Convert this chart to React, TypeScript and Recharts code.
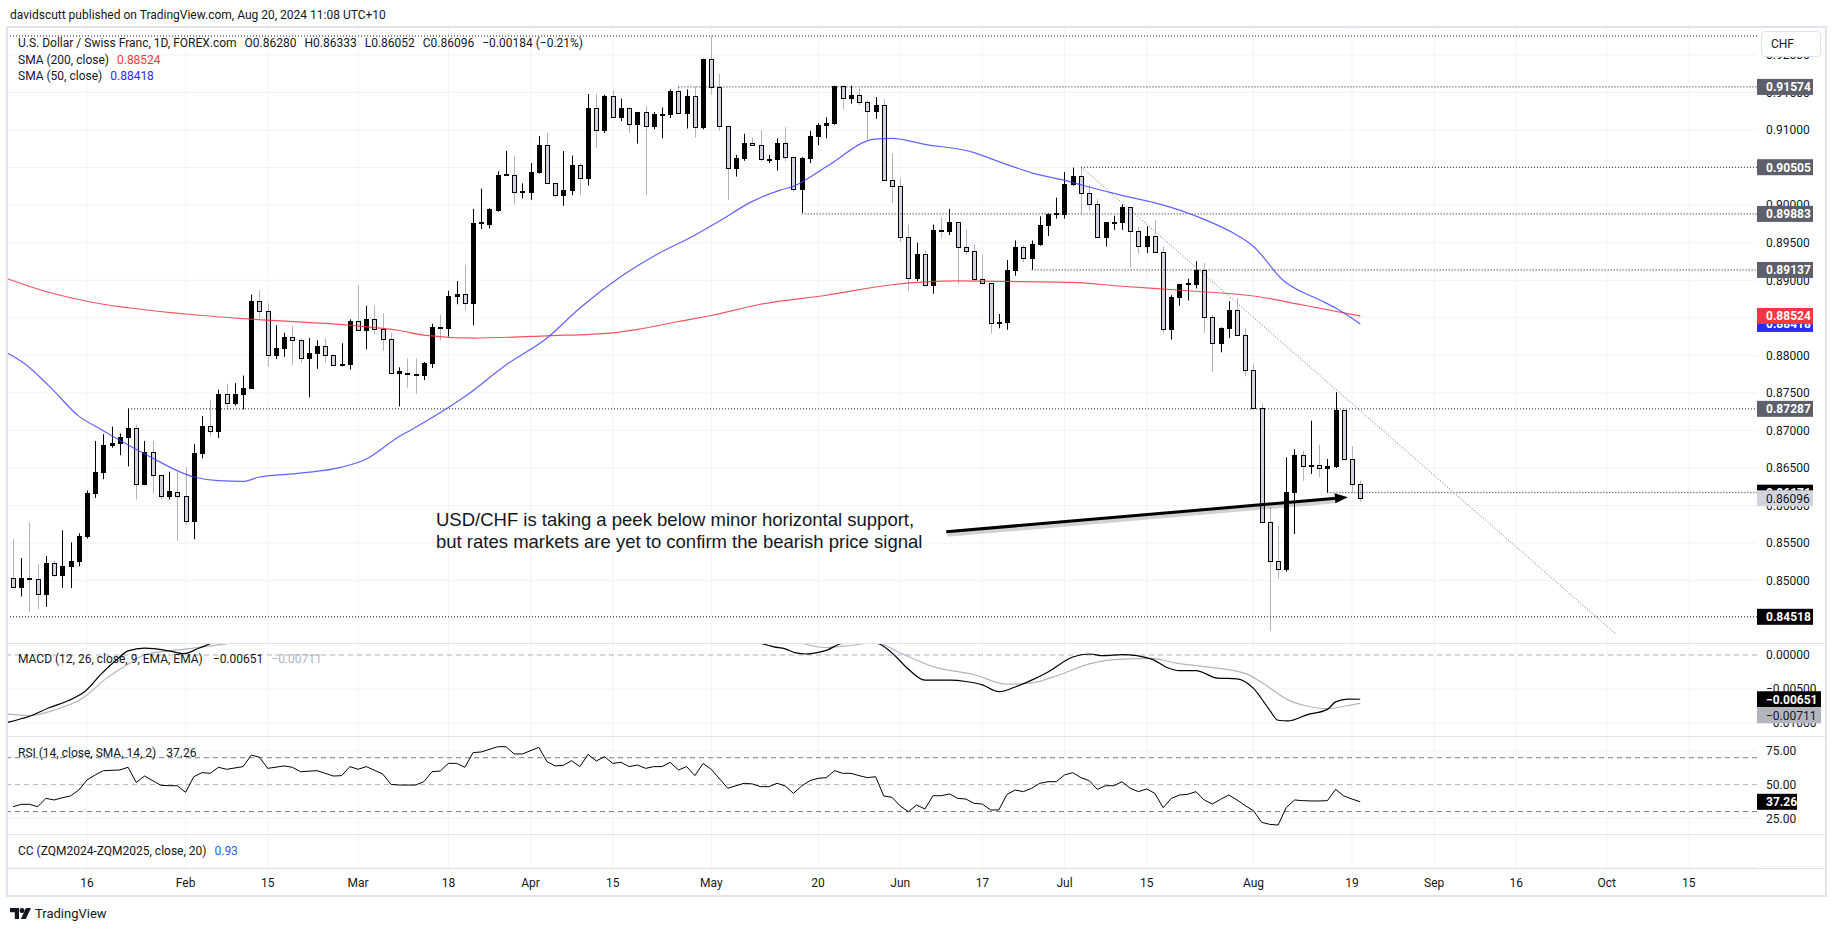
import {
  ComposedChart,
  Bar,
  Line,
  XAxis,
  YAxis,
  CartesianGrid,
  ReferenceLine,
} from 'recharts';

const FONT = 'Roboto, "Open Sans", Arial, sans-serif';
const INK = '#131722';
const GRID = '#f0f3fa';
const BORDER = '#e0e3eb';

// daily bars, index 0 = Mon 1 Jan 2024 (weekdays only); first bar drawn is index 2
const FIRST_BAR = 2;
const X_MIN = 1.26;
const X_MAX = 214.3;

const opens = [
  0.8504, 0.8492, 0.8503, 0.8502, 0.8482, 0.8524, 0.8508, 0.852, 0.8526, 0.8559,
  0.8616, 0.8645, 0.8681, 0.8683, 0.8691, 0.8703, 0.8628, 0.8671, 0.864, 0.8613,
  0.8618, 0.8613, 0.8579, 0.867, 0.8706, 0.8699, 0.8748, 0.8737, 0.8748, 0.8757,
  0.8872, 0.8859, 0.88, 0.881, 0.8824, 0.882, 0.8797, 0.8803, 0.8812, 0.8801,
  0.8787, 0.8788, 0.8846, 0.8834, 0.8849, 0.8835, 0.8822, 0.8777, 0.8777, 0.8775,
  0.8774, 0.879, 0.8838, 0.8837, 0.8879, 0.8882, 0.8869, 0.8976, 0.8975, 0.8994,
  0.904, 0.904, 0.9017, 0.9018, 0.9044, 0.908, 0.9029, 0.9014, 0.902, 0.9054,
  0.9036, 0.9129, 0.91, 0.9145, 0.9117, 0.913, 0.9108, 0.9124, 0.9106, 0.9121,
  0.9121, 0.9152, 0.9123, 0.9145, 0.9104, 0.9194, 0.9157, 0.9106, 0.905, 0.9063,
  0.9083, 0.908, 0.9061, 0.9062, 0.9083, 0.9064, 0.9022, 0.9063, 0.9092, 0.9107,
  0.911, 0.9159, 0.9143, 0.9147, 0.9137, 0.9125, 0.9133, 0.9034, 0.9025, 0.8957,
  0.8903, 0.8935, 0.8893, 0.8967, 0.8966, 0.8977, 0.8944, 0.8939, 0.8901, 0.8896,
  0.8843, 0.8844, 0.8914, 0.8944, 0.893, 0.8948, 0.8974, 0.8988, 0.8988, 0.9028,
  0.9039, 0.9016, 0.9001, 0.8957, 0.8977, 0.8978, 0.8997, 0.8966, 0.8946, 0.8959,
  0.8937, 0.8835, 0.8878, 0.8895, 0.8895, 0.8914, 0.8851, 0.8817, 0.8837, 0.8861,
  0.8827, 0.8781, 0.873, 0.8578, 0.8526, 0.8516, 0.8618, 0.8667, 0.8653, 0.8654,
  0.865, 0.8653, 0.8727, 0.8662, 0.8628,
];
const highs = [
  0.8555, 0.853, 0.8578, 0.8522, 0.8533, 0.8527, 0.8567, 0.8551, 0.8563, 0.862,
  0.8686, 0.8695, 0.8705, 0.8696, 0.8729, 0.8708, 0.8686, 0.8686, 0.8641, 0.8645,
  0.8645, 0.8651, 0.8682, 0.8719, 0.8741, 0.8754, 0.8762, 0.8763, 0.8773, 0.8881,
  0.8887, 0.8869, 0.884, 0.883, 0.8839, 0.8823, 0.8823, 0.882, 0.8823, 0.8801,
  0.8816, 0.8848, 0.8893, 0.8866, 0.8866, 0.8856, 0.883, 0.8784, 0.8796, 0.8796,
  0.8791, 0.8842, 0.8854, 0.8886, 0.8899, 0.892, 0.8995, 0.9022, 0.8996, 0.9045,
  0.9072, 0.9065, 0.9029, 0.9056, 0.9092, 0.9096, 0.9029, 0.9072, 0.9066, 0.9056,
  0.9148, 0.9148, 0.9147, 0.9153, 0.9142, 0.913, 0.9124, 0.9132, 0.9124, 0.913,
  0.9154, 0.9158, 0.9154, 0.9158, 0.9195, 0.9225, 0.9175, 0.9106, 0.9067, 0.9095,
  0.909, 0.91, 0.9067, 0.9089, 0.9104, 0.9064, 0.9064, 0.9099, 0.9109, 0.9117,
  0.9159, 0.9159, 0.9159, 0.9155, 0.914, 0.9144, 0.9141, 0.9069, 0.9036, 0.8974,
  0.895, 0.894, 0.8974, 0.8984, 0.8995, 0.8977, 0.8968, 0.8948, 0.8934, 0.8896,
  0.8855, 0.8927, 0.8953, 0.8947, 0.8953, 0.8985, 0.8989, 0.901, 0.9044, 0.905,
  0.9051, 0.9027, 0.9008, 0.8977, 0.8986, 0.9001, 0.8997, 0.8971, 0.8972, 0.898,
  0.8945, 0.888, 0.8895, 0.8902, 0.8925, 0.8923, 0.8854, 0.8837, 0.8872, 0.8876,
  0.8836, 0.8789, 0.8736, 0.8598, 0.8573, 0.8664, 0.8675, 0.8673, 0.8713, 0.8681,
  0.8662, 0.8751, 0.8727, 0.8679, 0.86333,
];
const lows = [
  0.8492, 0.8479, 0.8458, 0.8462, 0.8465, 0.8505, 0.849, 0.849, 0.8519, 0.8556,
  0.861, 0.8635, 0.8677, 0.8667, 0.8652, 0.8608, 0.8627, 0.8616, 0.8608, 0.8608,
  0.8553, 0.8574, 0.8555, 0.8663, 0.8692, 0.869, 0.8727, 0.8733, 0.8728, 0.8756,
  0.8849, 0.8785, 0.8795, 0.8798, 0.8787, 0.879, 0.8744, 0.8782, 0.879, 0.8786,
  0.8785, 0.8781, 0.8834, 0.8808, 0.8828, 0.8806, 0.8774, 0.8732, 0.8757, 0.8749,
  0.8767, 0.8783, 0.882, 0.8825, 0.8868, 0.886, 0.884, 0.8968, 0.8969, 0.8991,
  0.9039, 0.9001, 0.9009, 0.9007, 0.9042, 0.9029, 0.901, 0.8999, 0.9013, 0.9014,
  0.9026, 0.9076, 0.9096, 0.9116, 0.9112, 0.9096, 0.9082, 0.9013, 0.9101, 0.9089,
  0.9116, 0.9121, 0.9102, 0.909, 0.9101, 0.9147, 0.9099, 0.9007, 0.9038, 0.9059,
  0.9081, 0.9058, 0.9056, 0.9046, 0.9058, 0.9017, 0.899, 0.9056, 0.908, 0.9089,
  0.9107, 0.9127, 0.9135, 0.9133, 0.9087, 0.9115, 0.9033, 0.9003, 0.8951, 0.8886,
  0.8899, 0.8893, 0.8882, 0.8956, 0.896, 0.8895, 0.8934, 0.8899, 0.8895, 0.8829,
  0.8836, 0.8834, 0.8906, 0.8924, 0.8914, 0.8946, 0.8959, 0.8982, 0.8982, 0.9026,
  0.8988, 0.8992, 0.8957, 0.8945, 0.8967, 0.8967, 0.8917, 0.8935, 0.8936, 0.8937,
  0.8829, 0.8821, 0.8866, 0.8873, 0.8889, 0.883, 0.8778, 0.8804, 0.8823, 0.8827,
  0.8772, 0.8729, 0.8578, 0.8433, 0.8503, 0.8512, 0.8562, 0.8633, 0.8642, 0.8638,
  0.8617, 0.865, 0.8662, 0.8617, 0.86052,
];
const closes = [
  0.8492, 0.8503, 0.8502, 0.8482, 0.8524, 0.8508, 0.852, 0.8526, 0.8559, 0.8616,
  0.8645, 0.8681, 0.8683, 0.8691, 0.8703, 0.8628, 0.8671, 0.864, 0.8613, 0.8619,
  0.8613, 0.8579, 0.867, 0.8706, 0.8699, 0.8748, 0.8737, 0.8748, 0.8757, 0.8872,
  0.8859, 0.88, 0.881, 0.8824, 0.882, 0.8797, 0.8803, 0.8812, 0.8801, 0.8787,
  0.8788, 0.8846, 0.8834, 0.8849, 0.8835, 0.8822, 0.8777, 0.8779, 0.8775, 0.8774,
  0.879, 0.8838, 0.8837, 0.8879, 0.8882, 0.8869, 0.8976, 0.8977, 0.8995, 0.904,
  0.9041, 0.9017, 0.9019, 0.9044, 0.908, 0.9029, 0.9014, 0.902, 0.9054, 0.9036,
  0.9129, 0.91, 0.9145, 0.9117, 0.913, 0.9108, 0.9124, 0.9106, 0.9121, 0.9122,
  0.9152, 0.9123, 0.9145, 0.9104, 0.9194, 0.9157, 0.9106, 0.905, 0.9063, 0.9083,
  0.908, 0.9061, 0.9062, 0.9083, 0.9064, 0.9022, 0.9063, 0.9092, 0.9107, 0.911,
  0.9159, 0.9143, 0.9147, 0.9137, 0.9125, 0.9133, 0.9034, 0.9025, 0.8957, 0.8903,
  0.8935, 0.8893, 0.8967, 0.8966, 0.8977, 0.8944, 0.8939, 0.8901, 0.8896, 0.8843,
  0.8844, 0.8914, 0.8944, 0.893, 0.8948, 0.8974, 0.8988, 0.8989, 0.9028, 0.9039,
  0.9016, 0.9001, 0.8957, 0.8977, 0.8978, 0.8997, 0.8966, 0.8946, 0.8959, 0.8937,
  0.8835, 0.8878, 0.8895, 0.8896, 0.8914, 0.8851, 0.8817, 0.8837, 0.8861, 0.8827,
  0.8781, 0.873, 0.8578, 0.8526, 0.8516, 0.8618, 0.8667, 0.8653, 0.8654, 0.865,
  0.8653, 0.8727, 0.8662, 0.8628, 0.86096,
];

// time axis
const tickIdx = [11, 23, 33, 44, 55, 65, 75, 87, 100, 110, 120, 130, 140, 153, 165, 175, 185, 196, 206];
const tickLabels = ['16', 'Feb', '15', 'Mar', '18', 'Apr', '15', 'May', '20', 'Jun', '17', 'Jul', '15', 'Aug', '19', 'Sep', '16', 'Oct', '15'];

// moving averages: [bar index, value]
const sma200Points: [number, number][] = [
  [1.3, 0.8902], [6, 0.8885], [11, 0.8872], [23, 0.8855], [31, 0.8848], [43, 0.884],
  [49, 0.8833], [52, 0.8827], [58, 0.8823], [67, 0.8826], [75, 0.883], [78.3, 0.8835],
  [83, 0.8845], [87, 0.8853], [93, 0.8868], [101, 0.888], [109, 0.8894], [117, 0.8899],
  [125, 0.8898], [131, 0.8897], [137, 0.8892], [145, 0.8886], [153, 0.8879], [159, 0.8867],
  [166, 0.88524],
];
const sma50Points: [number, number][] = [
  [1.3, 0.8803], [3.25, 0.879], [6.5, 0.8758], [10, 0.8719], [12.6, 0.8702], [18, 0.8669],
  [24, 0.8638], [27, 0.8633], [30, 0.8632], [32, 0.8638], [37, 0.8643], [42, 0.8651],
  [45, 0.8662], [49, 0.8692], [50.5, 0.8701], [57, 0.8745], [62, 0.8787], [67, 0.8823],
  [71, 0.8863], [76, 0.8905], [80.3, 0.8934], [85, 0.896], [88, 0.8979], [92, 0.9005],
  [95.4, 0.902], [97, 0.9025], [101, 0.9051], [106.9, 0.9088], [109, 0.9089], [113, 0.9081],
  [119, 0.907], [122, 0.9058], [126, 0.9043], [130, 0.9033], [135.5, 0.9017], [139, 0.9008],
  [141, 0.9003], [147, 0.8981], [151, 0.896], [153, 0.8945], [156.6, 0.89], [161, 0.8874],
  [163, 0.8863], [166, 0.88418],
];

// price axis
const priceGrid = [
  0.845, 0.85, 0.855, 0.86, 0.865, 0.87, 0.875, 0.88, 0.885, 0.89, 0.895, 0.9, 0.905,
  0.91, 0.915, 0.92,
];
const priceTagValues = [0.91574, 0.90505, 0.89883, 0.89137, 0.87287, 0.88418, 0.88524, 0.86171, 0.86096, 0.84518];
const priceTagKinds = ['level', 'level', 'level', 'level', 'level', 'sma50', 'sma200', 'support', 'last', 'support'];

// drawn levels: price and the bar where each begins
const levelPrices = [0.92252, 0.91574, 0.90505, 0.89883, 0.89137, 0.87287, 0.86171, 0.84518];
const levelStarts = [X_MIN, 83, 132, 98, 126, 16, 162, X_MIN];
const trendFrom = { i: 132, p: 0.9051 };
const trendTo = { i: 197, p: 0.843 };
const arrowFrom = { i: 115.6, p: 0.8565 };
const arrowTo = { i: 164.5, p: 0.8611 };

// MACD (12, 26, 9): null marks where the lines leave the pane
const macdPoints: [number, number | null][] = [
  [1.3, -0.0099], [4, -0.009], [6.3, -0.0078], [9.3, -0.0064], [10.7, -0.0054], [12.8, -0.0027],
  [14.6, -0.0007], [16, 0.0006], [18, 0.001], [21, 0.0006], [22.8, 0.0002], [24.6, 0.001],
  [26.5, 0.0019], [60, null], [92.5, 0.0019], [94.6, 0.0012], [96, 0.0009], [97.3, 0.0003],
  [98.5, 0.00015], [100.8, 0.0006], [103.2, 0.0018], [105, 0.0019], [107, 0.0018], [109, 0.0003],
  [111, -0.0021], [113, -0.0037], [116, -0.0037], [118, -0.0039], [120, -0.0044], [122, -0.0054],
  [124, -0.0047], [126, -0.0037], [128, -0.0025], [131, -0.0003], [133, 0.00015], [134.7, -0.0001],
  [137, 0.00005], [140.6, -0.0006], [142.4, -0.0018], [144, -0.0023], [146, -0.0023], [148.6, -0.0034],
  [151, -0.0035], [153, -0.0049], [154.8, -0.0078], [156, -0.0096], [157.2, -0.0097], [159.5, -0.0088],
  [162, -0.008], [163, -0.0069], [164.5, -0.0065], [166, -0.00651],
];
const signalPoints: [number, number | null][] = [
  [1.3, -0.0087], [4, -0.0089], [7, -0.0081], [10.4, -0.0064], [13.4, -0.0034], [15.8, -0.0015],
  [18, 0], [21, 0.0006], [24, 0.001], [29.3, 0.0019], [60, null], [97.6, 0.0019], [100.8, 0.0011],
  [104, 0.0014], [107, 0.0018], [110, 0.0003], [114, -0.0017], [119, -0.0029], [123, -0.0043],
  [126, -0.0041], [129.4, -0.0029], [133, -0.0013], [137, -0.0006], [140.6, -0.0005], [143.6, -0.0012],
  [147, -0.0017], [152, -0.0027], [154.2, -0.0042], [157.2, -0.0066], [159.5, -0.0075], [162, -0.0079],
  [164.2, -0.0075], [166, -0.00711],
];
const macdGrid = [0, -0.005, -0.01];
const macdTagValues = [-0.00651, -0.00711];

// RSI (14)
const rsiPoints: [number, number][] = [
  [2, 33.6], [3, 35.4], [4, 35.4], [5, 33.6], [6, 39.8], [7, 38.6], [8, 40.3], [9, 41.6], [10, 46.0],
  [11, 53.5], [12, 57.2], [13, 60.4], [15, 60.9], [16, 62.9], [17, 51.7], [18, 56.4], [20, 49.5],
  [21, 49.2], [22, 49.2], [23, 44.3], [24, 55.9], [25, 58.9], [26, 58.4], [27, 62.9], [28, 61.4],
  [30, 63.4], [31, 72.0], [32, 70.3], [33, 62.1], [35, 63.9], [36, 62.9], [37, 59.6], [39, 60.4],
  [41, 56.4], [42, 56.7], [43, 63.4], [44, 61.4], [45, 63.4], [47, 57.9], [48, 50.2], [49, 49.7],
  [51, 49.7], [52, 52.2], [53, 59.6], [54, 60.1], [55, 65.8], [56, 65.8], [57, 62.9], [58, 73.8],
  [59, 74.3], [61, 78.2], [62, 78.2], [63, 72.8], [64, 72.8], [66, 77.7], [67, 67.1], [68, 63.9],
  [69, 64.4], [70, 67.8], [71, 63.4], [72, 72.5], [73, 67.6], [74, 70.8], [75, 65.8], [76, 66.6],
  [77, 63.4], [78, 64.6], [79, 62.1], [80, 63.4], [81, 63.4], [82, 66.6], [83, 60.9], [84, 63.4],
  [85, 56.7], [86, 65.8], [87, 61.4], [89, 47.3], [91, 51.0], [92, 50.5], [93, 48.5], [94, 48.5],
  [95, 51.0], [96, 49.0], [97, 43.5], [98, 49.0], [99, 53.0], [100, 54.7], [101, 55.2], [102, 60.4],
  [103, 58.4], [104, 58.4], [105, 56.7], [106, 55.2], [107, 55.9], [108, 41.6], [109, 40.6],
  [110, 34.1], [111, 29.9], [112, 34.9], [113, 31.9], [114, 41.8], [115, 41.8], [116, 43.1],
  [117, 39.8], [118, 39.3], [119, 36.1], [120, 35.6], [121, 31.2], [122, 31.2], [123, 42.8],
  [124, 46.0], [125, 44.8], [126, 47.3], [127, 51.0], [128, 52.2], [129, 52.2], [130, 57.2],
  [131, 58.9], [132, 55.2], [133, 53.0], [134, 46.5], [135, 49.2], [136, 49.2], [137, 52.2],
  [138, 47.3], [139, 44.8], [140, 46.8], [141, 43.5], [142, 32.9], [143, 39.8], [144, 42.3],
  [145, 42.8], [146, 44.8], [147, 38.6], [148, 35.6], [149, 39.1], [150, 42.3], [151, 38.6],
  [152, 34.4], [153, 30.7], [154, 22.0], [155, 20.5], [156, 20.0], [157, 33.1], [158, 38.6],
  [159, 38.1], [160, 37.9], [161, 37.9], [162, 38.1], [163, 46.5], [164, 41.6], [165, 39.3],
  [166, 37.26],
];
const rsiGrid = [75, 50, 25];
const rsiBands = [70, 50, 30];
const rsiTagValues = [37.26];

const candles = opens.map((o, k) => ({
  i: FIRST_BAR + k,
  o,
  h: highs[k],
  l: lows[k],
  c: closes[k],
  range: [lows[k], highs[k]],
}));
const toRows = (pts: [number, number | null][]) => pts.map(([i, v]) => ({ i, v }));

const TAG_STYLE: Record<string, { bg: string; fg: string; bold: boolean }> = {
  level: { bg: '#5d606b', fg: '#ffffff', bold: true },
  sma50: { bg: '#2a2aff', fg: '#ffffff', bold: true },
  sma200: { bg: '#f23645', fg: '#ffffff', bold: true },
  support: { bg: '#000000', fg: '#ffffff', bold: true },
  last: { bg: '#d1d4dc', fg: INK, bold: false },
  macd: { bg: '#000000', fg: '#ffffff', bold: true },
  signal: { bg: '#b2b5be', fg: INK, bold: false },
};

const fmtPrice = (v: number) => v.toFixed(5);
const fmtMacd = (v: number) => (v < 0 ? '\u2212' : '') + Math.abs(v).toFixed(5);
const fmtRsi = (v: number) => v.toFixed(2);

// labels that collide get pushed apart, the way the platform stacks them
function axisTick(fmt: (v: number) => string, tagVals: number[], tagKinds: string[], tagW: number, nudge: number[] = []) {
  return (p: any) => {
    const v = Number(p.payload.value);
    const label = fmt(v);
    const k = tagVals.findIndex((t) => fmt(t) === label);
    if (k >= 0) {
      const st = TAG_STYLE[tagKinds[k]];
      const y = p.y + (nudge[k] ?? 0);
      return (
        <g>
          <rect x={p.x - 9} y={y - 8} width={tagW} height={16} fill={st.bg} />
          <text x={p.x} y={y} dy="0.36em" fill={st.fg} fontSize={12} fontWeight={st.bold ? 700 : 400} fontFamily={FONT}>
            {label}
          </text>
        </g>
      );
    }
    return (
      <text x={p.x} y={p.y} dy="0.36em" fill={INK} fontSize={12} fontFamily={FONT}>
        {label}
      </text>
    );
  };
}

function Candle(p: any) {
  const { x, y, width, height, payload } = p;
  if (!payload || height == null) return null;
  const top = Math.min(y, y + height);
  const span = Math.abs(height);
  const range = payload.h - payload.l || 1e-9;
  const py = (v: number) => top + ((payload.h - v) / range) * span;
  const up = payload.c >= payload.o;
  const c0 = Math.round(x + width / 2);
  const bTop = py(Math.max(payload.o, payload.c));
  const bBot = py(Math.min(payload.o, payload.c));
  return (
    <g>
      <line x1={c0 + 0.5} x2={c0 + 0.5} y1={top} y2={top + span} stroke={up ? '#000000' : '#b2b5be'} />
      <rect
        x={c0 - 1.5}
        y={Math.round(bTop) + 0.5}
        width={4}
        height={Math.max(Math.round(bBot) - Math.round(bTop), 1)}
        fill={up ? '#000000' : '#d1d4dc'}
        stroke="#000000"
        strokeWidth={1}
      />
    </g>
  );
}

function Arrow(p: any) {
  const { x1, y1, x2, y2 } = p;
  const ang = Math.atan2(y2 - y1, x2 - x1);
  const len = 13;
  const half = 5;
  const bx = x2 - len * Math.cos(ang);
  const by = y2 - len * Math.sin(ang);
  const nx = -Math.sin(ang) * half;
  const ny = Math.cos(ang) * half;
  return (
    <g>
      <line x1={x1 + 1} y1={y1 + 3} x2={bx + 1} y2={by + 3} stroke="rgba(0,0,0,0.18)" strokeWidth={4} />
      <line x1={x1} y1={y1} x2={bx + 1} y2={by} stroke="#000000" strokeWidth={3} />
      <polygon points={`${x2},${y2} ${bx + nx},${by + ny} ${bx - nx},${by - ny}`} fill="#000000" />
    </g>
  );
}

const xAxisHidden = <XAxis dataKey="i" type="number" domain={[X_MIN, X_MAX]} hide allowDataOverflow />;
const MARGIN = { top: 0, right: 0, bottom: 0, left: 0 };
const CHART_W = 1818;

function Legend({ top, children }: { top: number; children: any }) {
  return (
    <div style={{ position: 'absolute', left: 18, top: top - 8, height: 16, lineHeight: '16px', fontSize: 12, color: INK, whiteSpace: 'nowrap' }}>
      {children}
    </div>
  );
}

export default function App() {
  const sep = (top: number) => (
    <div style={{ position: 'absolute', left: 7, top, width: CHART_W, height: 1, background: BORDER }} />
  );
  return (
    <div style={{ position: 'absolute', left: 0, top: 0, width: 1835, height: 931, background: '#ffffff', fontFamily: FONT, color: INK, overflow: 'hidden' }}>
      <div style={{ position: 'absolute', left: 10, top: 7, fontSize: 12, lineHeight: '16px' }}>
        davidscutt published on TradingView.com, Aug 20, 2024 11:08 UTC+10
      </div>

      {/* price pane */}
      <div style={{ position: 'absolute', left: 7, top: 27 }}>
        <ComposedChart width={CHART_W} height={616} data={candles} margin={MARGIN}>
          <CartesianGrid stroke={GRID} horizontalValues={priceGrid} verticalValues={tickIdx} />
          {xAxisHidden}
          <YAxis
            orientation="right"
            width={68}
            type="number"
            domain={[0.84169, 0.92372]}
            allowDataOverflow
            ticks={[...priceGrid, ...priceTagValues]}
            interval={0}
            tickLine={false}
            axisLine={false}
            tickSize={0}
            tickMargin={9}
            tick={axisTick(fmtPrice, priceTagValues, priceTagKinds, 56)}
          />
          {levelPrices.map((p, k) => (
            <ReferenceLine
              key={`lv${k}`}
              segment={[{ x: levelStarts[k], y: p }, { x: X_MAX, y: p }]}
              stroke={INK}
              strokeDasharray="1 2"
            />
          ))}
          <ReferenceLine
            segment={[{ x: trendFrom.i, y: trendFrom.p }, { x: trendTo.i, y: trendTo.p }]}
            stroke="#6a6d78"
            strokeDasharray="1 2"
          />
          <Bar dataKey="range" barSize={5} shape={(p: any) => <Candle {...p} />} isAnimationActive={false} />
          <Line data={toRows(sma200Points)} dataKey="v" type="monotone" dot={false} stroke="#f23645" strokeOpacity={0.85} strokeWidth={1.2} isAnimationActive={false} />
          <Line data={toRows(sma50Points)} dataKey="v" type="monotone" dot={false} stroke="#3b3bff" strokeOpacity={0.8} strokeWidth={1.2} isAnimationActive={false} />
          <ReferenceLine
            segment={[{ x: arrowFrom.i, y: arrowFrom.p }, { x: arrowTo.i, y: arrowTo.p }]}
            shape={(p: any) => <Arrow {...p} />}
          />
        </ComposedChart>
      </div>

      {/* MACD pane */}
      <div style={{ position: 'absolute', left: 7, top: 643 }}>
        <ComposedChart width={CHART_W} height={93} data={candles} margin={MARGIN}>
          <CartesianGrid stroke={GRID} horizontalValues={macdGrid} verticalValues={tickIdx} />
          {xAxisHidden}
          <YAxis
            orientation="right"
            width={68}
            type="number"
            domain={[-0.011912, 0.001765]}
            allowDataOverflow
            ticks={[...macdGrid, ...macdTagValues]}
            interval={0}
            tickLine={false}
            axisLine={false}
            tickSize={0}
            tickMargin={9}
            tick={axisTick(fmtMacd, macdTagValues, ['macd', 'signal'], 64, [0, 12])}
          />
          <ReferenceLine y={0} stroke="#b2b5be" strokeDasharray="5 4" />
          <Line data={toRows(signalPoints)} dataKey="v" type="monotone" dot={false} stroke="#b2b5be" strokeWidth={1.2} connectNulls={false} isAnimationActive={false} />
          <Line data={toRows(macdPoints)} dataKey="v" type="monotone" dot={false} stroke="#000000" strokeWidth={1.2} connectNulls={false} isAnimationActive={false} />
        </ComposedChart>
      </div>

      {/* RSI pane */}
      <div style={{ position: 'absolute', left: 7, top: 736 }}>
        <ComposedChart width={CHART_W} height={98} data={candles} margin={MARGIN}>
          <CartesianGrid stroke={GRID} horizontalValues={[75, 25]} verticalValues={tickIdx} />
          {xAxisHidden}
          <YAxis
            orientation="right"
            width={68}
            type="number"
            domain={[13.34, 86.14]}
            allowDataOverflow
            ticks={[...rsiGrid, ...rsiTagValues]}
            interval={0}
            tickLine={false}
            axisLine={false}
            tickSize={0}
            tickMargin={9}
            tick={axisTick(fmtRsi, rsiTagValues, ['support'], 40)}
          />
          {rsiBands.map((b) => (
            <ReferenceLine key={`rb${b}`} y={b} stroke={b === 50 ? '#b2b5be' : '#787b86'} strokeDasharray="5 4" />
          ))}
          <Line data={toRows(rsiPoints)} dataKey="v" type="linear" dot={false} stroke="#000000" strokeWidth={1} isAnimationActive={false} />
        </ComposedChart>
      </div>

      {/* CC pane + time axis */}
      <div style={{ position: 'absolute', left: 7, top: 834 }}>
        <ComposedChart width={CHART_W} height={61} data={candles} margin={MARGIN}>
          <CartesianGrid stroke={GRID} horizontal={false} verticalValues={tickIdx} />
          <XAxis
            dataKey="i"
            type="number"
            domain={[X_MIN, X_MAX]}
            allowDataOverflow
            ticks={tickIdx}
            interval={0}
            height={27}
            tickSize={0}
            tickMargin={10}
            axisLine={{ stroke: BORDER }}
            tickLine={false}
            tick={{ fontSize: 12, fill: INK, fontFamily: FONT }}
            tickFormatter={(v: number) => tickLabels[tickIdx.indexOf(v)] ?? ''}
          />
          <YAxis orientation="right" width={68} type="number" domain={[0, 1]} tick={false} axisLine={false} tickLine={false} />
        </ComposedChart>
      </div>

      {/* frame and pane separators */}
      <div style={{ position: 'absolute', left: 6, top: 26, width: 1821, height: 871, border: `2px solid ${BORDER}`, boxSizing: 'border-box', pointerEvents: 'none' }} />
      {sep(643)}
      {sep(736)}
      {sep(834)}
      {sep(868)}

      {/* legends */}
      <Legend top={43}>
        <span>U.S. Dollar / Swiss Franc, 1D, FOREX.com</span>
        <span style={{ marginLeft: 8 }}>O0.86280</span>
        <span style={{ marginLeft: 8 }}>H0.86333</span>
        <span style={{ marginLeft: 8 }}>L0.86052</span>
        <span style={{ marginLeft: 8 }}>C0.86096</span>
        <span style={{ marginLeft: 8 }}>{'\u22120.00184 (\u22120.21%)'}</span>
      </Legend>
      <Legend top={60}>
        <span>SMA (200, close)</span>
        <span style={{ marginLeft: 8, color: '#f23645' }}>0.88524</span>
      </Legend>
      <Legend top={76}>
        <span>SMA (50, close)</span>
        <span style={{ marginLeft: 8, color: '#2a2aff' }}>0.88418</span>
      </Legend>
      <Legend top={659}>
        <span>MACD (12, 26, close, 9, EMA, EMA)</span>
        <span style={{ marginLeft: 10 }}>{'\u22120.00651'}</span>
        <span style={{ marginLeft: 8, color: '#b2b5be' }}>{'\u22120.00711'}</span>
      </Legend>
      <Legend top={753}>
        <span>RSI (14, close, SMA, 14, 2)</span>
        <span style={{ marginLeft: 10 }}>37.26</span>
      </Legend>
      <Legend top={851}>
        <span>CC (ZQM2024-ZQM2025, close, 20)</span>
        <span style={{ marginLeft: 8, color: '#2962ff' }}>0.93</span>
      </Legend>

      {/* currency box */}
      <div style={{ position: 'absolute', left: 1761, top: 31, width: 60, height: 26, boxSizing: 'border-box', border: `1px solid ${BORDER}`, borderRadius: 4, background: '#ffffff', fontSize: 12, lineHeight: '24px', paddingLeft: 9 }}>
        CHF
      </div>

      {/* annotation */}
      <div style={{ position: 'absolute', left: 436, top: 509, fontFamily: '"Liberation Sans", Arial, sans-serif', fontSize: 18.5, lineHeight: '21.7px', color: INK, whiteSpace: 'nowrap' }}>
        USD/CHF is taking a peek below minor horizontal support,
        <br />
        but rates markets are yet to confirm the bearish price signal
      </div>

      {/* footer logo */}
      <div style={{ position: 'absolute', left: 10, top: 905, height: 16, display: 'flex', alignItems: 'center' }}>
        <svg width={21} height={11} viewBox="0 0 21 11">
          <path d="M0 0h9v11h-4.2v-6.8H0z" fill={INK} />
          <circle cx={12} cy={2.6} r={2.5} fill={INK} />
          <path d="M16 0h5l-5.2 11h-5z" fill={INK} />
        </svg>
        <span style={{ marginLeft: 4, fontSize: 13, color: INK }}>TradingView</span>
      </div>
    </div>
  );
}
